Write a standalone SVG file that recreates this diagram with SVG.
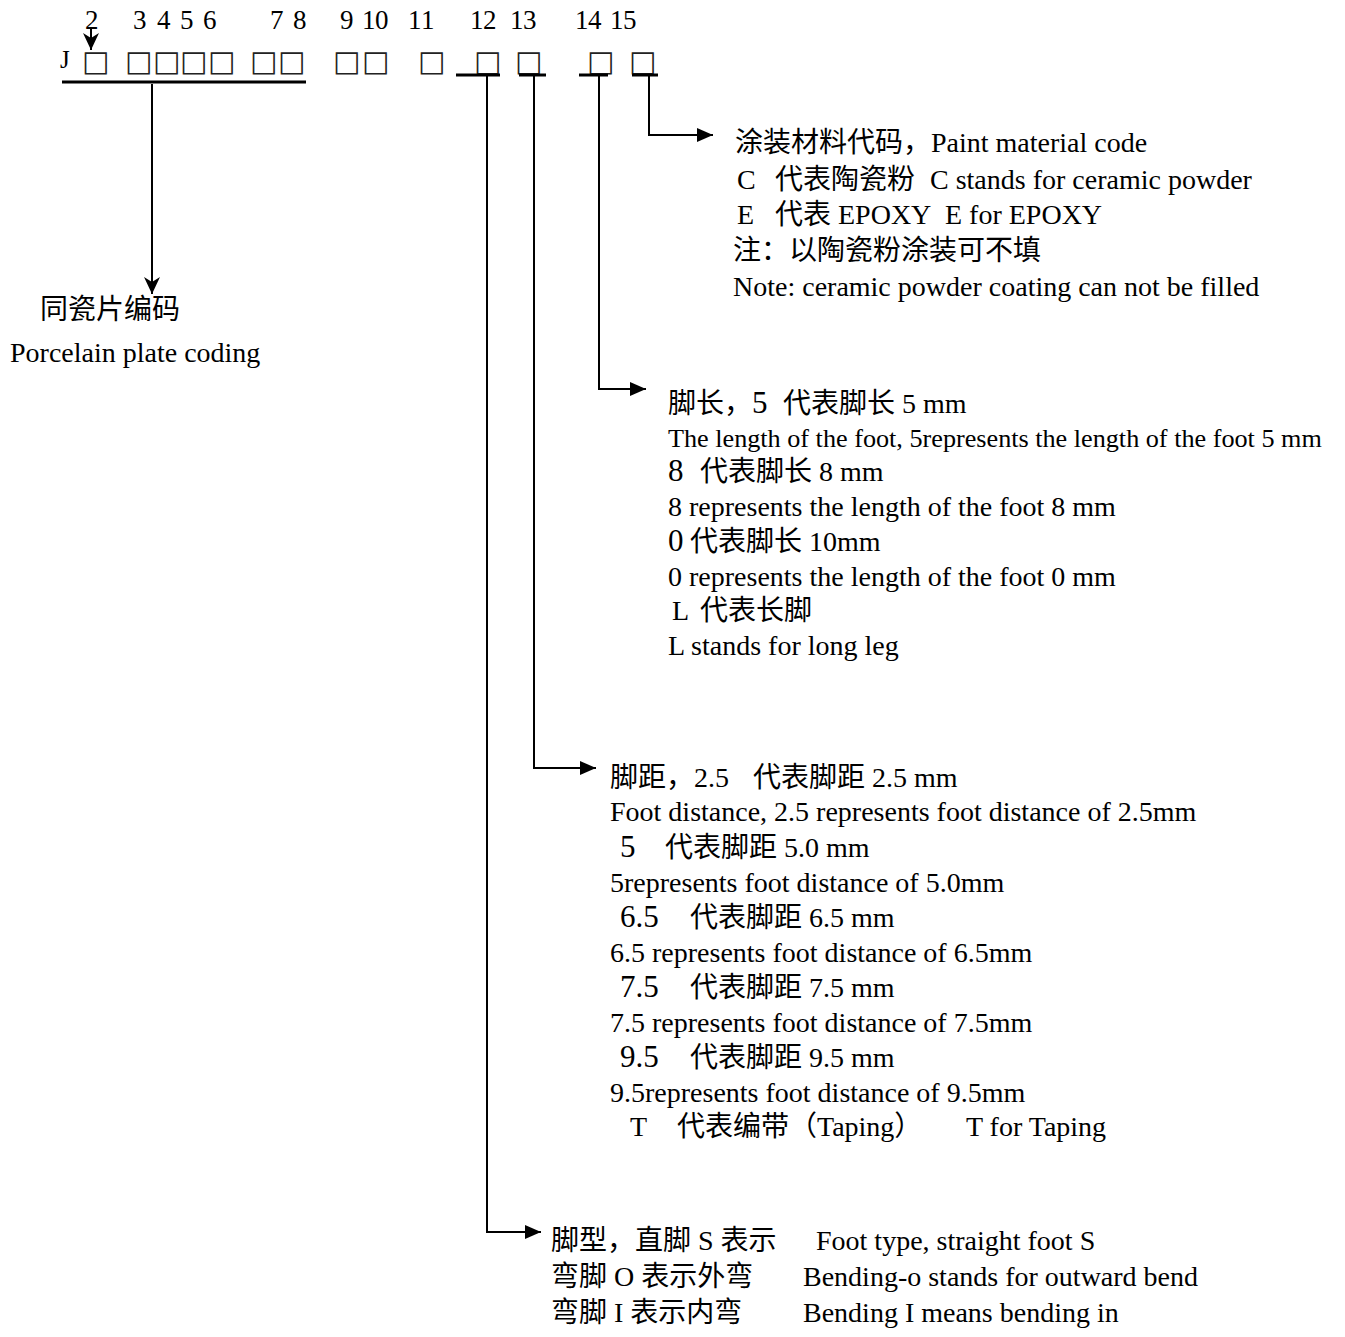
<svg xmlns="http://www.w3.org/2000/svg" width="1345" height="1337" viewBox="0 0 1345 1337">
<style>
text { font-family: "Liberation Serif", "Noto Sans CJK SC", serif; font-size: 28px; fill: #000; }
.num { font-size: 27px; }
.big { font-size: 31px; }
.narrow { font-size: 26.2px; }
.j { font-size: 25px; }
.box { font-family: "DejaVu Sans", sans-serif; font-size: 29px; text-anchor: middle; fill: #222; }
.ln { stroke: #000; stroke-width: 2; fill: none; }
.bar { stroke: #000; stroke-width: 3; fill: none; }
</style>
<defs>
<marker id="tri" markerUnits="userSpaceOnUse" markerWidth="16" markerHeight="14" refX="16" refY="7" orient="auto">
<path d="M0,0 L16,7 L0,14 Z" fill="#000"/>
</marker>
<marker id="barb" markerUnits="userSpaceOnUse" markerWidth="18" markerHeight="16" refX="17" refY="8" orient="auto">
<path d="M0,0 L17,8 L0,16 L5,8 Z" fill="#000"/>
</marker>
</defs>
<rect width="1345" height="1337" fill="#fff"/>

<g id="code-row">
<text class="num" x="85" y="29">2</text>
<text class="num" x="133 146 157 170 180 193 203" y="29">3 4 5 6</text>
<text class="num" x="270 283 293" y="29">7 8</text>
<text class="num" x="340 353 362 375 390 408 421" y="29">9 10 11</text>
<text class="num" x="470 483 497 510 523" y="29">12 13</text>
<text class="num" x="575 588 602 610 623" y="29">14 15</text>
<text class="j" x="60" y="68">J</text>
<text class="box" x="96 139 167 194 222 264 292 347 376 432 488 529 601 643" y="71">□□□□□□□□□□□□□□</text>
</g>

<g id="connectors">
<line class="bar" x1="62" y1="82" x2="306" y2="82"/>
<line class="ln" x1="91" y1="29" x2="91" y2="50" marker-end="url(#barb)" stroke-width="2.5"/>
<line class="ln" x1="152" y1="84" x2="152" y2="294" marker-end="url(#barb)" stroke-width="3"/>
<line class="bar" x1="456" y1="75" x2="500" y2="75"/>
<line class="bar" x1="519" y1="75" x2="546" y2="75"/>
<line class="bar" x1="579" y1="75" x2="608" y2="75"/>
<line class="bar" x1="632" y1="75" x2="658" y2="75"/>
<path class="ln" d="M649,75 V135 H713" marker-end="url(#tri)"/>
<path class="ln" d="M599,75 V389 H646" marker-end="url(#tri)"/>
<path class="ln" d="M534,75 V768 H596" marker-end="url(#tri)"/>
<path class="ln" d="M487,75 V1232 H541" marker-end="url(#tri)"/>
</g>

<g id="porcelain-code">
<text x="40" y="319">同瓷片编码</text>
<text x="10" y="362">Porcelain plate coding</text>
</g>

<g id="paint-code">
<text x="735" y="152">涂装材料代码，Paint material code</text>
<text y="189"><tspan x="737">C</tspan><tspan x="775">代表陶瓷粉</tspan><tspan x="930">C stands for ceramic powder</tspan></text>
<text y="224"><tspan x="737">E</tspan><tspan x="775">代表 EPOXY</tspan><tspan x="945">E for EPOXY</tspan></text>
<text x="733" y="260">注：以陶瓷粉涂装可不填</text>
<text x="733" y="296">Note: ceramic powder coating can not be filled</text>
</g>

<g id="foot-length">
<text y="413"><tspan x="668">脚长，</tspan><tspan class="big" x="752">5</tspan><tspan x="783">代表脚长 5 mm</tspan></text>
<text class="narrow" x="668" y="447">The length of the foot, 5represents the length of the foot 5 mm</text>
<text y="481"><tspan class="big" x="668">8</tspan><tspan x="700">代表脚长 8 mm</tspan></text>
<text x="668" y="516">8 represents the length of the foot 8 mm</text>
<text y="551"><tspan class="big" x="668">0</tspan><tspan x="690">代表脚长 10mm</tspan></text>
<text x="668" y="586">0 represents the length of the foot 0 mm</text>
<text y="620"><tspan x="672">L</tspan><tspan x="700">代表长脚</tspan></text>
<text x="668" y="655">L stands for long leg</text>
</g>

<g id="foot-distance">
<text y="787"><tspan x="610">脚距，2.5</tspan><tspan x="753">代表脚距 2.5 mm</tspan></text>
<text x="610" y="821">Foot distance, 2.5 represents foot distance of 2.5mm</text>
<text y="857"><tspan class="big" x="620">5</tspan><tspan x="665">代表脚距 5.0 mm</tspan></text>
<text x="610" y="892">5represents foot distance of 5.0mm</text>
<text y="927"><tspan class="big" x="620">6.5</tspan><tspan x="690">代表脚距 6.5 mm</tspan></text>
<text x="610" y="962">6.5 represents foot distance of 6.5mm</text>
<text y="997"><tspan class="big" x="620">7.5</tspan><tspan x="690">代表脚距 7.5 mm</tspan></text>
<text x="610" y="1032">7.5 represents foot distance of 7.5mm</text>
<text y="1067"><tspan class="big" x="620">9.5</tspan><tspan x="690">代表脚距 9.5 mm</tspan></text>
<text x="610" y="1102">9.5represents foot distance of 9.5mm</text>
<text y="1136"><tspan x="630">T</tspan><tspan x="677">代表编带（Taping）</tspan><tspan x="966">T for Taping</tspan></text>
</g>

<g id="foot-type">
<text y="1250"><tspan x="551">脚型，直脚 S 表示</tspan><tspan x="816">Foot type, straight foot S</tspan></text>
<text y="1286"><tspan x="551">弯脚 O 表示外弯</tspan><tspan x="803">Bending-o stands for outward bend</tspan></text>
<text y="1322"><tspan x="551">弯脚 I 表示内弯</tspan><tspan x="803">Bending I means bending in</tspan></text>
</g>
</svg>
